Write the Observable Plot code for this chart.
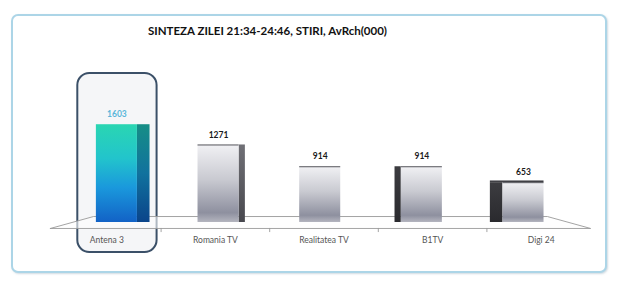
<!DOCTYPE html>
<html>
<head>
<meta charset="utf-8">
<script src="https://cdn.jsdelivr.net/npm/d3@7"></script>
<script src="https://cdn.jsdelivr.net/npm/@observablehq/plot@0.6"></script>
<style>
  html, body { margin: 0; padding: 0; background: #fff; }
  #wrap { position: relative; width: 620px; height: 287px; overflow: hidden; }
  #panel { position: absolute; left: 11px; top: 14px; width: 592px; height: 255px;
           border: 2px solid #acd5e7; border-radius: 7px; background: #fff;
           box-shadow: 1px 1px 2px rgba(120,150,170,0.35); }
  #title { position: absolute; left: 148px; top: 24px; font: bold 11.5px Lato, "Open Sans", sans-serif;
           color: #111; white-space: nowrap; z-index: 2; }
  #chart { position: absolute; left: 0; top: 0; z-index: 1; }
</style>
</head>
<body>
<div id="wrap">
  <div id="panel"></div>
  <div id="title">SINTEZA ZILEI 21:34-24:46, STIRI, AvRch(000)</div>
  <div id="chart"></div>
</div>
<script>
// ---- data ----
const categories = ["Antena 3", "Romania TV", "Realitatea TV", "B1TV", "Digi 24"];
const values = [1603, 1271, 914, 914, 653];
const highlighted = "Antena 3";

// ---- perspective helpers (styling) ----
const center = 1.965;      // vanishing centre in category units
const barDepth = 0.936;    // perspective factor of the bar fronts
const backDepth = 0.84;    // perspective factor of the floor back edge
const halfW = 0.189;       // half width of bar front face
const sideK = 0.062;       // side face width per unit of distance from centre
const eyeLevel = 800;      // bars below this show their top face

const data = categories.map((name, i) => {
  const pos = center + (i - 2) * barDepth;
  const dist = pos - center;
  const sw = Math.abs(dist) * sideK;
  return {
    name, i, value: values[i], pos,
    fx1: pos - halfW, fx2: pos + halfW,
    sx1: dist < 0 ? pos + halfW : pos - halfW - sw,
    sx2: dist < 0 ? pos + halfW + sw : pos - halfW,
    hl: name === highlighted
  };
});

const frontL = -0.52, frontR = 4.455, floorFront = -98, floorBack = 98;
const floor = [
  {x: frontL, y: floorFront},
  {x: frontR, y: floorFront},
  {x: center + (frontR - center) * backDepth, y: floorBack},
  {x: center + (frontL - center) * backDepth, y: floorBack},
  {x: frontL, y: floorFront}
];
const boundaries = [0.5, 1.5, 2.5, 3.5];

const plot = Plot.plot({
  width: 620,
  height: 287,
  marginLeft: 52,
  marginRight: 25,
  marginTop: 100,
  marginBottom: 65,
  style: {background: "transparent", overflow: "visible"},
  x: {domain: [-0.5, 4.5], axis: null},
  y: {domain: [0, 2000], axis: null},
  marks: [
    // highlight box
    Plot.rect(data.filter(d => d.hl), {
      x1: d => d.pos - 0.36, x2: d => d.pos + 0.37, y1: -492, y2: 2443,
      fill: "#f5f6f8", stroke: "#3b5068", strokeWidth: 2, rx: 12
    }),
    // floor
    Plot.line(floor, {x: "x", y: "y", stroke: "#9a9a9a", strokeWidth: 0.9, fill: "#fdfdfd", fillOpacity: 0.6}),
    Plot.ruleX(boundaries, {y1: floorFront, y2: -165, stroke: "#9a9a9a", strokeWidth: 0.9}),
    // category labels
    Plot.text(data, {
      x: "i", y: floorFront, text: "name", dy: 12,
      fill: "#555", fontSize: 8.5, fontFamily: "Lato, sans-serif"
    }),
    // side faces
    Plot.rect(data.filter(d => d.hl), {x1: "sx1", x2: "sx2", y1: 0, y2: "value", fill: "url(#gAside)"}),
    Plot.rect(data.filter(d => !d.hl && d.pos < center), {x1: "sx1", x2: "sx2", y1: 0, y2: "value", fill: "url(#gGsideL)"}),
    Plot.rect(data.filter(d => !d.hl && d.pos > center), {x1: "sx1", x2: "sx2", y1: 0, y2: "value", fill: "url(#gGsideR)"}),
    // front faces
    Plot.rect(data.filter(d => d.hl), {x1: "fx1", x2: "fx2", y1: 0, y2: "value", fill: "url(#gA)"}),
    Plot.rect(data.filter(d => !d.hl), {x1: "fx1", x2: "fx2", y1: 0, y2: "value", fill: "url(#gG)"}),
    // top faces of the short bars
    Plot.rect(data.filter(d => !d.hl && d.value < eyeLevel), {
      x1: "sx1", x2: "fx2", y1: "value", y2: d => d.value + 28, fill: "#404045"
    }),
    // top edge
    Plot.ruleY(data.filter(d => !d.hl), {x1: "fx1", x2: "fx2", y: "value", stroke: "#55565c", strokeWidth: 1}),
    // value labels
    Plot.text(data, {
      x: "pos", y: "value", text: d => String(d.value), dy: -10,
      fill: d => d.hl ? "#5ab6da" : "#1a1a1a",
      fontWeight: "bold", fontSize: 8.5, fontFamily: "Lato, sans-serif"
    })
  ]
});

// gradients
const svg = d3.select(plot);
const defs = svg.insert("defs", ":first-child");
function grad(id, stops) {
  const g = defs.append("linearGradient").attr("id", id)
    .attr("x1", 0).attr("y1", 0).attr("x2", 0).attr("y2", 1);
  stops.forEach(([o, c]) => g.append("stop").attr("offset", o).attr("stop-color", c));
}
grad("gA", [[0, "#2ad6b2"], [0.35, "#22c4cc"], [0.65, "#1a98dc"], [1, "#1262c6"]]);
grad("gAside", [[0, "#168e86"], [0.5, "#11729e"], [1, "#0a448a"]]);
grad("gG", [[0, "#f1f1f4"], [0.45, "#c9cad1"], [0.88, "#8e909f"], [1, "#b4b5bf"]]);
grad("gGsideL", [[0, "#707076"], [1, "#48484e"]]);
grad("gGsideR", [[0, "#3c3c40"], [1, "#2a2a2e"]]);

document.getElementById("chart").appendChild(plot);
</script>
</body>
</html>
